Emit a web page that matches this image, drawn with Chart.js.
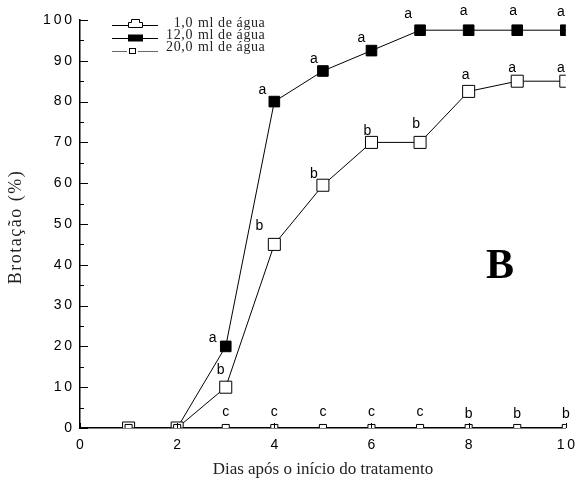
<!DOCTYPE html>
<html>
<head>
<meta charset="utf-8">
<script src="https://cdn.jsdelivr.net/npm/chart.js@4.4.0/dist/chart.umd.min.js"></script>
<style>
  html, body { margin: 0; padding: 0; background: #fff; }
  #wrap { width: 584px; height: 484px; }
</style>
</head>
<body>
<div id="wrap"><canvas id="chart" width="584" height="484"></canvas></div>
<script>
const days = [1, 2, 3, 4, 5, 6, 7, 8, 9, 10];
const agua1 = [0, 0, 10, 45, 59.5, 70, 70, 82.5, 85, 85];
const agua12 = [0, 0, 20, 80, 87.5, 92.5, 97.5, 97.5, 97.5, 97.5];
const agua20 = [0, 0, 0, 0, 0, 0, 0, 0, 0, 0];
const letras1 = ['', '', 'b', 'b', 'b', 'b', 'b', 'a', 'a', 'a'];
const letras12 = ['', '', 'a', 'a', 'a', 'a', 'a', 'a', 'a', 'a'];
const letras20 = ['', '', 'c', 'c', 'c', 'c', 'c', 'b', 'b', 'b'];
const legendas = ['1,0', '12,0', '20,0'];
const xTicks = [0, 2, 4, 6, 8, 10];
const yTicks = [0, 10, 20, 30, 40, 50, 60, 70, 80, 90, 100];

// deslocamento das letras (px) em relação ao ponto
const off1 = [null, null, [-5, -17], [-15, -18], [-9, -11], [-4, -11], [-4, -18], [-3, -16], [-5, -13], [-5, -13]];
const off12 = [null, null, [-13, -8], [-12, -11], [-9, -12], [-10, -12], [-12, -16], [-5, -19], [-4, -19], [-5, -18]];
const off20 = [null, null, [0, -16], [0, -16], [0, -16], [0, -16], [0, -16], [0, -14], [0, -14], [0, -14]];

const SANS = "'Liberation Sans', Arial, sans-serif";
const SERIF = "'Liberation Serif', 'Times New Roman', serif";

function spaced(v) {
  return String(v).split('').join('\u2009');
}

function pts(arr) {
  return days.map((d, i) => ({ x: d, y: arr[i] }));
}

const extras = {
  id: 'extras',
  afterDraw(chart) {
    const ctx = chart.ctx;
    const xs = chart.scales.x, ys = chart.scales.y;
    const a = chart.chartArea;
    ctx.save();
    ctx.strokeStyle = '#000';
    ctx.lineWidth = 1;

    // ticks para dentro
    yTicks.forEach(v => {
      const y = Math.round(ys.getPixelForValue(v)) + 0.5;
      ctx.beginPath(); ctx.moveTo(a.left, y); ctx.lineTo(a.left + 8, y); ctx.stroke();
      if (v < 100) {
        const y2 = Math.round(ys.getPixelForValue(v + 5)) + 0.5;
        ctx.beginPath(); ctx.moveTo(a.left, y2); ctx.lineTo(a.left + 4, y2); ctx.stroke();
      }
    });
    xTicks.forEach(v => {
      const x = Math.round(xs.getPixelForValue(v)) + 0.5;
      ctx.beginPath(); ctx.moveTo(x, a.bottom); ctx.lineTo(x, a.bottom - 5); ctx.stroke();
    });

    // letras
    ctx.fillStyle = '#000';
    ctx.font = '14px ' + SANS;
    ctx.textAlign = 'center';
    ctx.textBaseline = 'middle';
    [[agua1, letras1, off1], [agua12, letras12, off12], [agua20, letras20, off20]].forEach(([vals, lets, offs]) => {
      lets.forEach((l, i) => {
        if (!l) return;
        const x = xs.getPixelForValue(days[i]) + offs[i][0];
        const y = ys.getPixelForValue(vals[i]) + offs[i][1];
        ctx.fillText(l, x, y);
      });
    });

    // B
    ctx.font = 'bold 42px ' + SERIF;
    ctx.fillText('B', 500, 267);

    // título do eixo y
    ctx.save();
    ctx.translate(16, 227);
    ctx.rotate(-Math.PI / 2);
    ctx.font = '18px ' + SERIF;
    ctx.letterSpacing = '1.5px';
    ctx.fillStyle = '#222';
    ctx.fillText('Brotação (%)', 0, 0);
    ctx.restore();

    // legenda
    const rows = [23, 35, 47];
    const lines = [25, 38, 51];
    ctx.font = '14px ' + SERIF;
    ctx.letterSpacing = '0.6px';
    rows.forEach((y, i) => {
      const ly = lines[i] + 0.5;
      ctx.strokeStyle = i === 2 ? '#666' : '#000';
      ctx.beginPath();
      if (i === 2) {
        ctx.moveTo(112, ly); ctx.lineTo(127, ly);
        ctx.moveTo(138, ly); ctx.lineTo(158, ly);
      } else {
        ctx.moveTo(112, ly); ctx.lineTo(158, ly);
      }
      ctx.stroke();
      ctx.strokeStyle = '#000';
      if (i === 0) {
        ctx.fillStyle = '#fff';
        ctx.beginPath();
        ctx.moveTo(128.5, ly + 2); ctx.lineTo(128.5, ly - 3); ctx.lineTo(131.5, ly - 3);
        ctx.lineTo(131.5, ly - 6); ctx.lineTo(139.5, ly - 6); ctx.lineTo(139.5, ly - 3);
        ctx.lineTo(142.5, ly - 3); ctx.lineTo(142.5, ly + 2); ctx.closePath();
        ctx.fill(); ctx.stroke();
      } else if (i === 1) {
        ctx.fillStyle = '#000';
        ctx.fillRect(128, ly - 4, 15, 7);
      } else {
        ctx.fillStyle = '#fff';
        ctx.strokeRect(129.5, ly - 3, 6, 5);
      }
      ctx.fillStyle = '#222';
      ctx.textAlign = 'right';
      ctx.fillText(legendas[i], 193, y);
      ctx.textAlign = 'left';
      ctx.fillText('ml de água', 198, y);
    });
    ctx.restore();
  }
};

new Chart(document.getElementById('chart'), {
  type: 'line',
  data: {
    datasets: [
      {
        label: '20,0 ml de água', data: pts(agua20),
        borderColor: '#000', borderWidth: 1, backgroundColor: '#fff',
        pointStyle: 'rect', pointRadius: 5, pointBorderWidth: 1, pointBackgroundColor: '#fff', tension: 0
      },
      {
        label: '1,0 ml de água', data: pts(agua1),
        borderColor: '#000', borderWidth: 1, backgroundColor: '#fff',
        pointStyle: 'rect', pointRadius: 8.5, pointBorderWidth: 1, pointBackgroundColor: '#fff', tension: 0
      },
      {
        label: '12,0 ml de água', data: pts(agua12),
        borderColor: '#000', borderWidth: 1, backgroundColor: '#000',
        pointStyle: 'rect', pointRadius: 7.5, pointBorderWidth: 1, pointBackgroundColor: '#000', tension: 0
      }
    ]
  },
  options: {
    responsive: false,
    animation: false,
    layout: { padding: { top: 20, right: 18, left: 0, bottom: 0 } },
    plugins: { legend: { display: false }, tooltip: { enabled: false } },
    scales: {
      x: {
        type: 'linear', min: 0, max: 10,
        afterBuildTicks: s => { s.ticks = xTicks.map(v => ({ value: v })); },
        afterFit: s => { s.height = 56; },
        grid: { display: false, drawTicks: false },
        border: { display: true, color: '#000', width: 1.5 },
        ticks: { color: '#000', font: { family: SANS, size: 14 }, padding: 9, callback: v => spaced(v), maxRotation: 0 },
        title: { display: true, text: 'Dias após o início do tratamento', color: '#222', font: { family: SERIF, size: 17 }, padding: { top: 4 } }
      },
      y: {
        min: 0, max: 100,
        afterBuildTicks: s => { s.ticks = yTicks.map(v => ({ value: v })); },
        afterFit: s => { s.width = 80; },
        grid: { display: false, drawTicks: false },
        border: { display: true, color: '#000', width: 1.5 },
        ticks: { color: '#000', font: { family: SANS, size: 14 }, padding: 8, callback: v => spaced(v) },
        title: { display: false }
      }
    }
  },
  plugins: [extras]
});
</script>
</body>
</html>
